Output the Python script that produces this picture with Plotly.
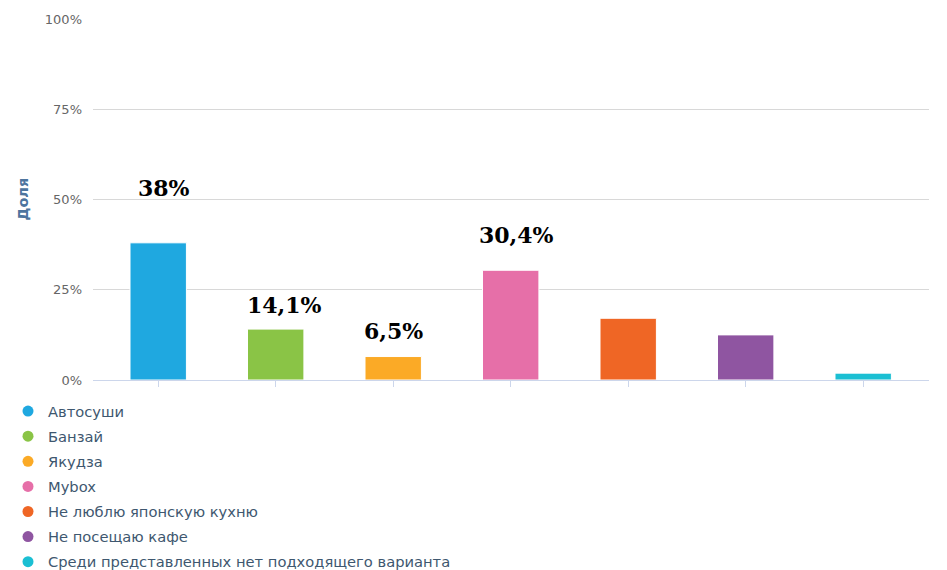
import plotly.graph_objects as go

categories = ["Автосуши", "Банзай", "Якудза", "Mybox",
              "Не люблю японскую кухню", "Не посещаю кафе",
              "Среди представленных нет подходящего варианта"]
values = [38, 14.1, 6.5, 30.4, 17.1, 12.5, 1.9]
value_labels = ["38%", "14,1%", "6,5%", "30,4%", None, None, None]
tick_values = [0, 25, 50, 75, 100]
tick_labels = ["0%", "25%", "50%", "75%", "100%"]
y_title = "Доля"

colors = ["#1fa8e0", "#8ac446", "#fbaa26", "#e66fa8", "#ef6625", "#8f55a1", "#1bbfd3"]
label_yshift = [55, 24, 26, 35, 0, 0, 0]
label_xshift = [6, 9, 0, 6, 0, 0, 0]

fig = go.Figure()
for i, (cat, val) in enumerate(zip(categories, values)):
    fig.add_trace(go.Bar(
        x=[cat], y=[val], width=0.48,
        marker=dict(color=colors[i], line=dict(color="#ffffff", width=1)),
        legendgroup=cat, showlegend=False, name=cat,
        hovertemplate="%{x}: %{y}%<extra></extra>",
    ))
    fig.add_trace(go.Scatter(
        x=[None], y=[None], mode="markers", name=cat, legendgroup=cat,
        marker=dict(color=colors[i], size=11, symbol="circle"),
        showlegend=True,
    ))

for i, (cat, val, lab) in enumerate(zip(categories, values, value_labels)):
    if lab is None:
        continue
    fig.add_annotation(
        x=cat, y=val, text=lab, showarrow=False,
        yanchor="middle", xanchor="center",
        yshift=label_yshift[i], xshift=label_xshift[i],
        font=dict(family="DejaVu Serif", size=22, color="#000000", weight="bold"),
    )

# y-axis title
fig.add_annotation(
    xref="paper", yref="paper", x=-0.0849, y=0.5,
    xanchor="center", yanchor="middle", textangle=-90,
    text="<b>" + y_title + "</b>", showarrow=False,
    font=dict(family="DejaVu Sans", size=14.5, color="#4d759e"),
)

fig.update_layout(
    width=939, height=562,
    margin=dict(l=85, r=18, t=11, b=190, autoexpand=False),
    plot_bgcolor="#ffffff", paper_bgcolor="#ffffff",
    barmode="overlay",
    font=dict(family="DejaVu Sans", size=12, color="#666666"),
    legend=dict(
        orientation="v", xref="container", yref="container",
        x=0.0, y=0.3114, xanchor="left", yanchor="top",
        font=dict(family="DejaVu Sans", size=14.7, color="#3e576f"),
        tracegroupgap=3, bgcolor="rgba(0,0,0,0)",
    ),
    xaxis=dict(
        type="category", categoryorder="array", categoryarray=categories,
        range=[-0.555, 6.56], showticklabels=False,
        showline=True, linecolor="#ccd6eb", linewidth=1,
        ticks="outside", ticklen=6, tickcolor="#ccd6eb", tickwidth=1,
        showgrid=False, zeroline=False, fixedrange=True,
    ),
    yaxis=dict(
        range=[0, 100], tickvals=tick_values, ticktext=tick_labels,
        showgrid=True, gridcolor="#d8d8d8", gridwidth=1,
        zeroline=False, showline=False, ticks="",
        ticklabelstandoff=10,
        tickfont=dict(family="DejaVu Sans", size=13, color="#666666"),
        fixedrange=True,
    ),
)

fig.write_html("out.html")
